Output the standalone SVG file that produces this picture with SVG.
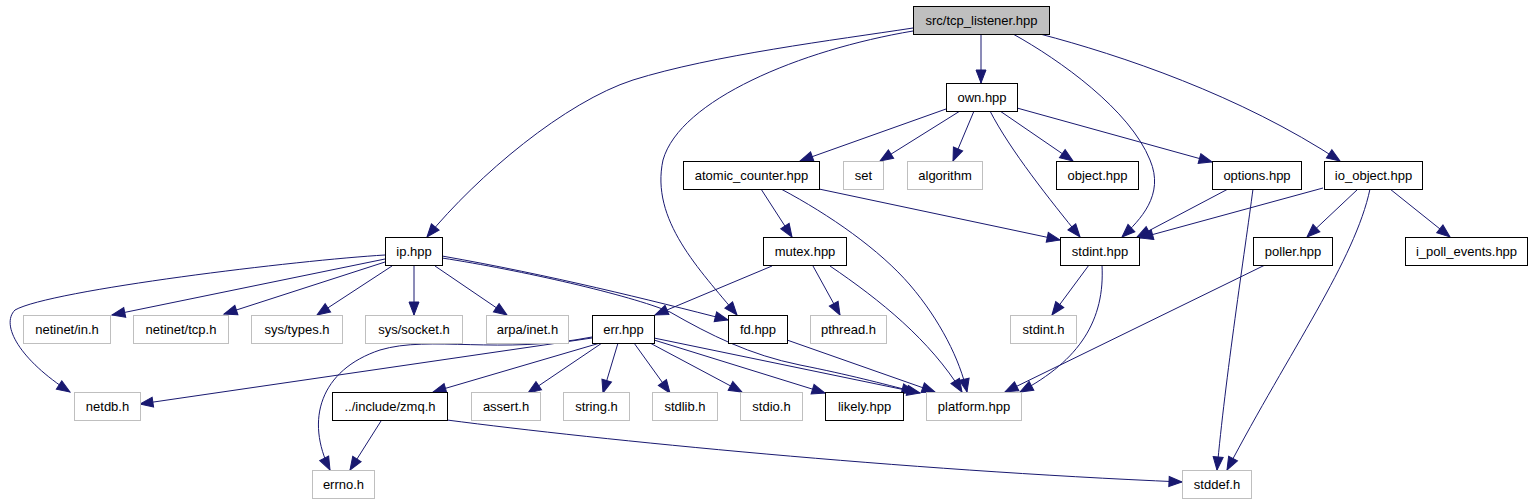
<svg xmlns="http://www.w3.org/2000/svg" width="1535" height="504" viewBox="0 0 1535 504">
<style>
text{font-family:"Liberation Sans",Arial,sans-serif;font-size:13px;fill:#000;text-anchor:middle}
.n rect{fill:#fff;stroke:#000;stroke-width:1}
.x rect{fill:#fff;stroke:#bfbfbf;stroke-width:1}
.r rect{fill:#bfbfbf;stroke:#000;stroke-width:1}
#edges path{fill:none;stroke:#191970;stroke-width:1;marker-end:url(#ah)}
</style>
<defs>
<marker id="ah" markerUnits="userSpaceOnUse" markerWidth="14" markerHeight="10" refX="13" refY="5" orient="auto" overflow="visible">
<path d="M0,0 L13,5 L0,10 z" fill="#191970" stroke="#191970" stroke-width="1"/>
</marker>
</defs>
<rect width="1535" height="504" fill="#fff"/>
<g id="edges">
<path d="M913,28 C835,40 713,55 633,80 C565,102 478,175 427,237"/>
<path d="M981,34 L981,83"/>
<path d="M1013,34 C1060,60 1130,110 1150,160 C1165,195 1140,220 1122,237"/>
<path d="M1040,34 C1120,55 1240,95 1340,161"/>
<path d="M913,31 C800,50 680,100 663,160 C650,220 700,270 737,315"/>
<path d="M946,109 L800,161"/>
<path d="M960,111 L880,161"/>
<path d="M974,111 L953,161"/>
<path d="M990,111 C1010,150 1050,200 1080,237"/>
<path d="M1000,111 L1073,161"/>
<path d="M1017,108 L1212,162"/>
<path d="M761,189 L792,237"/>
<path d="M781,189 C830,215 880,250 910,285 C940,320 960,360 967,392"/>
<path d="M819,189 L1060,240"/>
<path d="M1228,189 L1137,237"/>
<path d="M1253,189 C1245,250 1225,380 1217,470"/>
<path d="M1323,188 L1140,238"/>
<path d="M1358,189 L1307,237"/>
<path d="M1370,189 C1355,260 1290,350 1227,470"/>
<path d="M1390,189 L1450,237"/>
<path d="M1089,265 L1052,315"/>
<path d="M1102,265 C1105,320 1080,360 1020,392"/>
<path d="M1265,265 L1005,392"/>
<path d="M772,266 L655,315"/>
<path d="M813,266 L840,315"/>
<path d="M830,266 C880,300 930,340 962,392"/>
<path d="M385,255 C300,260 50,290 15,310 C0,325 20,360 70,392"/>
<path d="M385,259 L112,315"/>
<path d="M385,262 L224,314"/>
<path d="M392,266 L317,315"/>
<path d="M414,266 L414,315"/>
<path d="M435,266 L507,315"/>
<path d="M442,256 C550,275 650,300 728,320"/>
<path d="M442,258 C520,270 630,295 670,312 C710,335 750,355 800,365 C850,375 880,383 915,392"/>
<path d="M592,338 L140,404"/>
<path d="M592,337 C500,355 430,335 380,350 C320,370 305,420 330,470"/>
<path d="M600,343 L433,392"/>
<path d="M602,343 L528,393"/>
<path d="M618,343 L603,393"/>
<path d="M634,343 L670,393"/>
<path d="M650,343 L742,392"/>
<path d="M654,340 L825,393"/>
<path d="M654,338 L920,393"/>
<path d="M787,340 L935,392"/>
<path d="M381,421 L350,470"/>
<path d="M447,420 C600,440 900,470 1182,482"/>
</g>
<g id="n_root" class="r"><rect x="913.5" y="6.5" width="136" height="28"/><text x="981.5" y="25">src/tcp_listener.hpp</text></g>
<g id="n_own" class="n"><rect x="946.5" y="83.5" width="71" height="28"/><text x="982" y="102">own.hpp</text></g>
<g id="n_atomic" class="n"><rect x="683.5" y="161.5" width="136" height="28"/><text x="751.5" y="180">atomic_counter.hpp</text></g>
<g id="n_set" class="x"><rect x="843.5" y="161.5" width="40" height="28"/><text x="863.5" y="180">set</text></g>
<g id="n_algorithm" class="x"><rect x="907.5" y="161.5" width="75" height="28"/><text x="945" y="180">algorithm</text></g>
<g id="n_object" class="n"><rect x="1056.5" y="161.5" width="82" height="28"/><text x="1097.5" y="180">object.hpp</text></g>
<g id="n_options" class="n"><rect x="1212.5" y="161.5" width="89" height="28"/><text x="1257" y="180">options.hpp</text></g>
<g id="n_io_object" class="n"><rect x="1324.5" y="161.5" width="98" height="28"/><text x="1373.5" y="180">io_object.hpp</text></g>
<g id="n_ip" class="n"><rect x="385.5" y="237.5" width="57" height="28"/><text x="414" y="256">ip.hpp</text></g>
<g id="n_mutex" class="n"><rect x="763.5" y="237.5" width="83" height="28"/><text x="805" y="256">mutex.hpp</text></g>
<g id="n_stdint_hpp" class="n"><rect x="1060.5" y="237.5" width="79" height="28"/><text x="1100" y="256">stdint.hpp</text></g>
<g id="n_poller" class="n"><rect x="1253.5" y="237.5" width="79" height="28"/><text x="1293" y="256">poller.hpp</text></g>
<g id="n_i_poll_events" class="n"><rect x="1405.5" y="237.5" width="122" height="28"/><text x="1466.5" y="256">i_poll_events.hpp</text></g>
<g id="n_netinet_in" class="x"><rect x="23.5" y="315.5" width="87" height="28"/><text x="67" y="334">netinet/in.h</text></g>
<g id="n_netinet_tcp" class="x"><rect x="133.5" y="315.5" width="95" height="28"/><text x="181" y="334">netinet/tcp.h</text></g>
<g id="n_sys_types" class="x"><rect x="251.5" y="315.5" width="91" height="28"/><text x="297" y="334">sys/types.h</text></g>
<g id="n_sys_socket" class="x"><rect x="365.5" y="315.5" width="97" height="28"/><text x="414" y="334">sys/socket.h</text></g>
<g id="n_arpa_inet" class="x"><rect x="486.5" y="315.5" width="82" height="28"/><text x="527.5" y="334">arpa/inet.h</text></g>
<g id="n_err" class="n"><rect x="592.5" y="315.5" width="62" height="28"/><text x="623.5" y="334">err.hpp</text></g>
<g id="n_fd" class="n"><rect x="728.5" y="315.5" width="59" height="28"/><text x="758" y="334">fd.hpp</text></g>
<g id="n_pthread" class="x"><rect x="810.5" y="315.5" width="76" height="28"/><text x="848.5" y="334">pthread.h</text></g>
<g id="n_stdint_h" class="x"><rect x="1010.5" y="315.5" width="66" height="28"/><text x="1043.5" y="334">stdint.h</text></g>
<g id="n_netdb" class="x"><rect x="74.5" y="392.5" width="66" height="28"/><text x="107.5" y="411">netdb.h</text></g>
<g id="n_zmq" class="n"><rect x="332.5" y="392.5" width="115" height="28"/><text x="390" y="411">../include/zmq.h</text></g>
<g id="n_assert" class="x"><rect x="471.5" y="392.5" width="69" height="28"/><text x="506" y="411">assert.h</text></g>
<g id="n_string" class="x"><rect x="563.5" y="392.5" width="66" height="28"/><text x="596.5" y="411">string.h</text></g>
<g id="n_stdlib" class="x"><rect x="652.5" y="392.5" width="65" height="28"/><text x="685" y="411">stdlib.h</text></g>
<g id="n_stdio" class="x"><rect x="740.5" y="392.5" width="62" height="28"/><text x="771.5" y="411">stdio.h</text></g>
<g id="n_likely" class="n"><rect x="825.5" y="392.5" width="78" height="28"/><text x="864.5" y="411">likely.hpp</text></g>
<g id="n_platform" class="x"><rect x="926.5" y="392.5" width="95" height="28"/><text x="974" y="411">platform.hpp</text></g>
<g id="n_errno" class="x"><rect x="312.5" y="470.5" width="62" height="28"/><text x="343.5" y="489">errno.h</text></g>
<g id="n_stddef" class="x"><rect x="1182.5" y="470.5" width="69" height="28"/><text x="1217" y="489">stddef.h</text></g>
</svg>
